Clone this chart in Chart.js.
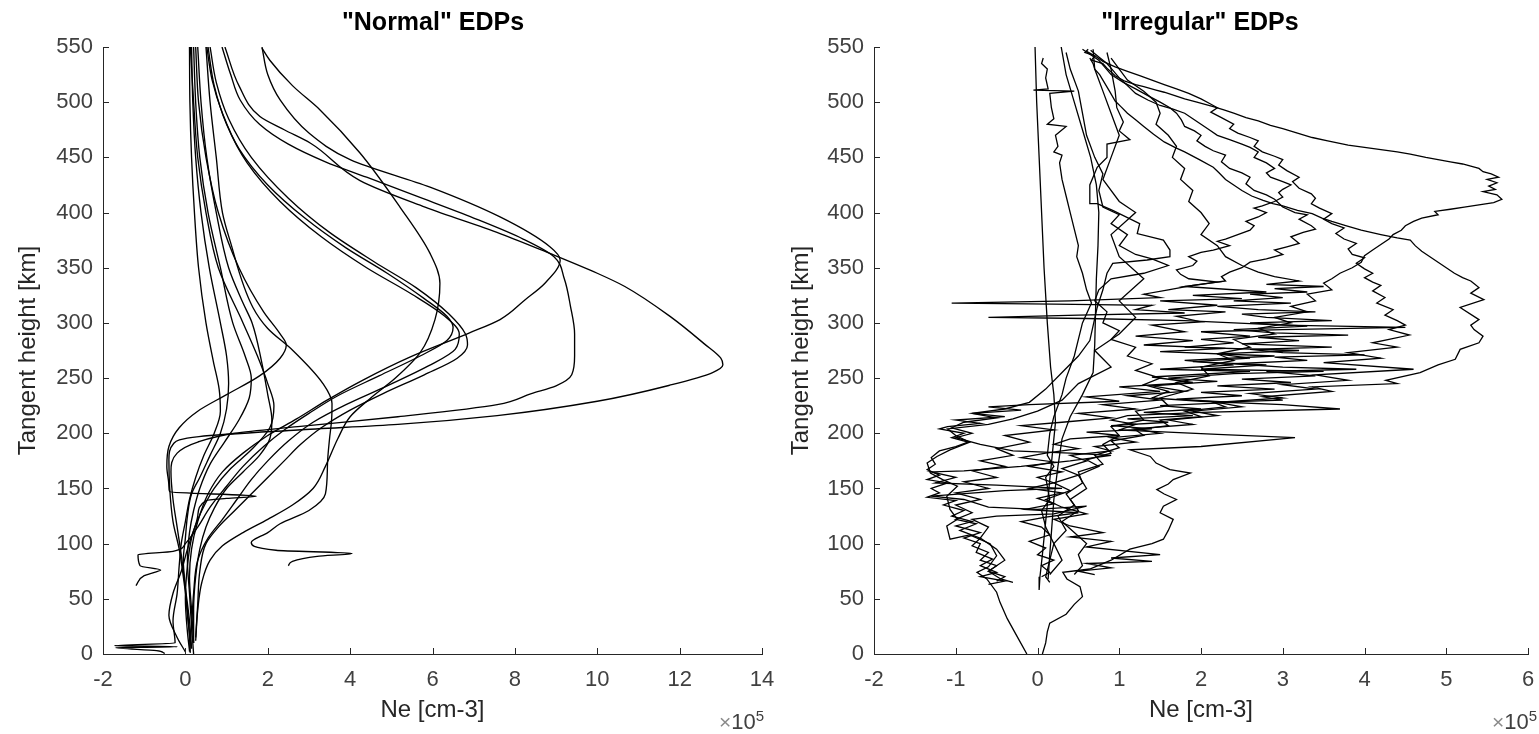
<!DOCTYPE html>
<html>
<head>
<meta charset="utf-8">
<script src="https://cdn.jsdelivr.net/npm/chart.js@4.4.1/dist/chart.umd.min.js"></script>
<style>
body{margin:0;background:#fff;width:1539px;height:734px;position:relative;overflow:hidden;font-family:"Liberation Sans",Arial,sans-serif}
canvas{position:absolute;top:0}
#c1{left:0}
#c2{left:770px}
.ttl{position:absolute;top:6px;font-weight:bold;font-size:25px;line-height:30px;color:#000;transform:translateX(-50%);white-space:nowrap}
.exp{position:absolute;top:701px;font-size:22px;line-height:30px;color:#404040;white-space:nowrap;transform:translateX(-100%)}
.exp span{color:#8a8a8a;font-size:21px}
.exp sup{font-size:15px}
</style>
</head>
<body>
<canvas id="c1" width="775" height="734"></canvas>
<canvas id="c2" width="769" height="734"></canvas>
<div class="ttl" style="left:433px">"Normal" EDPs</div>
<div class="ttl" style="left:1200px">"Irregular" EDPs</div>
<div class="exp" style="left:764px"><span>×</span>10<sup>5</sup></div>
<div class="exp" style="left:1537px"><span>×</span>10<sup>5</sup></div>
<script>
// ==========================================
// DATA  (Ne in 1e5 cm-3, tangent height km)
// ==========================================

const yTicks = [0,50,100,150,200,250,300,350,400,450,500,550];
const xTicksNormal = [-2,0,2,4,6,8,10,12,14];
const xTicksIrregular = [-2,-1,0,1,2,3,4,5,6];

// "Normal" profiles
const n13 = [[0.96,550],[1.3,515],[1.81,487],[2.4,475],[3.03,463],[4.24,429],[5.82,405],[7.64,381],[8.85,363],[10.0,345],[10.67,333],[11.8,305],[12.6,281],[13.0,268],[13.05,262],[12.8,255],[11.81,244],[10.0,229],[7.57,216],[5.16,208],[2.73,203],[0.33,197],[-0.28,191],[-0.4,176],[-0.38,150],[-0.3,120],[-0.15,95],[-0.05,70],[0.05,40],[0.1,15],[0.12,1]];
const n9 = [[1.86,550],[2.0,525],[2.3,502],[3.0,472],[4.0,448],[5.94,423],[7.64,396],[8.85,369],[9.1,357],[8.73,336],[8.25,321],[7.64,303],[6.9,291],[5.45,269],[4.3,248],[3.44,230],[2.7,213],[2.0,198],[1.4,182],[0.9,165],[0.55,145],[0.3,120],[0.15,95],[0.1,70],[0.15,40],[0.2,10]];
const n94 = [[0.89,550],[1.1,525],[1.33,502],[1.8,480],[2.5,462],[3.4,446],[4.4,432],[5.6,415],[7.0,395],[8.2,376],[8.95,360],[9.2,340],[9.35,315],[9.45,290],[9.45,270],[9.38,253],[9.0,243],[8.4,236],[7.57,226],[5.16,215],[2.73,206],[1.2,200],[0.3,192],[-0.2,182],[-0.35,165],[-0.3,140],[-0.2,115],[-0.1,90],[0.0,60],[0.1,30],[0.15,5]];
const m1 = [[1.86,549],[2.05,538],[2.6,515],[3.27,493],[4.24,454],[5.21,405],[5.94,363],[6.18,336],[6.06,303],[5.7,273],[5.1,250],[4.5,232],[4.0,215],[3.7,195],[3.4,170],[3.1,150],[2.6,135],[2.0,122],[1.4,110],[0.9,98],[0.6,85],[0.4,65],[0.3,40],[0.25,12]];
const m2 = [[0.55,550],[0.7,515],[1.0,480],[1.5,445],[2.3,410],[3.3,378],[4.4,350],[5.5,326],[6.3,306],[6.65,290],[6.55,276],[5.9,261],[4.9,243],[3.9,226],[3.1,210],[2.5,193],[2.0,175],[1.6,158],[1.25,140],[0.9,122],[0.55,105],[0.3,85],[0.2,55],[0.15,25],[0.1,2]];
const m3 = [[0.6,550],[0.75,518],[1.05,485],[1.6,450],[2.5,413],[3.5,382],[4.6,355],[5.6,332],[6.4,308],[6.8,290],[6.85,280],[6.6,268],[5.8,253],[4.8,236],[4.0,221],[3.3,205],[2.8,190],[2.4,175],[2.0,160],[1.6,145],[1.2,130],[0.8,115],[0.5,100],[0.35,75],[0.3,45],[0.25,15]];
const m4 = [[0.52,550],[0.65,520],[0.9,490],[1.3,458],[2.0,425],[2.9,395],[3.9,368],[4.9,345],[5.8,322],[6.35,306],[6.5,296],[6.35,284],[5.7,270],[4.7,252],[3.7,234],[3.0,218],[2.4,203],[1.9,188],[1.4,170],[1.0,152],[0.6,133],[0.3,115],[0.0,100],[-0.3,93],[-1.15,90],[-1.1,80],[-0.6,76],[-0.75,74],[-1.0,71],[-1.2,62]];
const b1 = [[0.1,550],[0.11,500],[0.15,450],[0.22,400],[0.32,350],[0.5,300],[0.68,265],[0.82,240],[0.85,220],[0.7,200],[0.45,180],[0.25,160],[0.1,140],[0.0,120],[-0.1,100],[-0.15,80],[-0.2,55],[-0.3,30],[-0.25,10],[-1.72,7.5],[-0.2,6.5],[-1.7,5.8],[-0.7,3],[-0.5,0.5]];
const b2 = [[0.15,550],[0.18,500],[0.25,450],[0.38,400],[0.58,350],[0.85,300],[1.0,270],[1.05,245],[1.0,222],[0.85,200],[0.6,180],[0.35,160],[0.15,145],[0.05,125],[0.0,105],[-0.05,85],[0.0,60],[0.05,35],[0.15,5]];
const b3 = [[0.2,550],[0.25,500],[0.35,450],[0.55,400],[0.85,350],[1.15,300],[1.45,270],[1.6,250],[1.55,232],[1.3,212],[0.95,192],[0.6,172],[0.35,150],[0.2,130],[0.1,110],[0.05,85],[0.1,55],[0.15,25],[0.2,0]];
const b4 = [[0.12,550],[0.2,500],[0.3,450],[0.5,400],[0.8,350],[1.4,300],[1.75,270],[2.0,245],[2.15,225],[2.05,205],[1.6,185],[1.1,168],[0.7,150],[0.4,130],[0.2,112],[0.05,95],[-0.1,75],[-0.3,55],[-0.4,35],[-0.2,15],[0.0,2]];
const b5 = [[0.3,550],[0.38,500],[0.52,450],[0.75,400],[1.05,350],[1.4,318],[1.62,300],[1.85,265],[2.0,235],[2.1,212],[2.05,195],[1.8,180],[1.4,165],[1.0,150],[0.7,132],[0.5,115],[0.35,95],[0.25,70],[0.2,40],[0.2,10]];
const d1 = [[0.25,550],[0.32,500],[0.5,450],[0.8,400],[1.3,350],[1.9,310],[2.3,290],[2.45,280],[2.3,268],[1.8,252],[1.0,235],[0.3,220],[-0.15,205],[-0.4,188],[-0.45,170],[-0.4,152],[-0.38,147],[1.72,143],[1.0,141],[0.5,139],[0.3,125],[0.15,105],[0.05,80],[0.0,50],[0.05,20],[0.1,3]];
const e1 = [[0.5,550],[0.6,500],[0.75,450],[0.9,400],[1.08,375],[1.64,314],[2.0,295],[2.61,275],[3.34,245],[3.56,227],[3.55,212],[3.5,195],[3.45,172],[3.4,145],[3.0,130],[2.3,118],[2.0,110],[1.6,101],[2.2,94],[4.05,91],[3.2,88.5],[2.6,84],[2.5,80]];

// "Irregular" profiles
const r1 = [[-0.03,550],[-0.01,500],[0.02,450],[0.05,400],[0.08,350],[0.12,300],[0.16,260],[0.2,235],[0.22,210],[0.18,180],[0.14,150],[0.1,120],[0.06,90],[0.03,70],[0.02,58]];
const r2 = [[0.07,540],[0.05,535],[0.12,530],[0.1,522],[0.13,512],[-0.05,511],[0.45,510],[0.15,508],[0.17,495],[0.2,485],[0.12,480],[0.35,478],[0.22,470],[0.25,460],[0.2,455],[0.3,452],[0.27,445],[0.3,430],[0.35,415],[0.4,400],[0.45,385],[0.5,370],[0.48,360],[0.55,345],[0.6,330],[0.66,318],[0.55,300],[0.5,285],[0.45,270],[0.35,250],[0.3,235],[0.2,215],[0.15,200],[0.12,180],[0.2,170],[0.1,160],[0.15,140],[0.05,130],[0.1,115],[0.2,100],[0.15,85],[0.1,70],[0.15,65]];
const r3 = [[0.29,550],[0.35,525],[0.45,500],[0.55,475],[0.65,450],[0.72,425],[0.75,400],[0.74,370],[0.72,340],[0.71,310],[0.7,280],[0.68,255],[0.55,235],[0.4,215],[0.3,195],[0.25,170],[0.2,140],[0.17,110],[0.15,90],[0.13,68]];
const r4 = [[0.62,548],[0.58,545],[0.7,542],[0.66,538],[0.8,535],[0.86,530],[0.95,524],[1.07,519],[1.2,516],[1.3,514],[1.45,511],[1.55,509],[1.68,506],[1.8,503],[1.95,500],[2.15,496],[2.28,493],[2.4,490],[2.55,486],[2.7,483],[2.85,479],[3.0,476],[3.18,472],[3.36,468],[3.55,465],[3.8,461],[4.0,459],[4.2,457],[4.4,455],[4.56,453],[4.75,450],[4.9,448],[5.05,446],[5.2,444],[5.3,442],[5.4,440],[5.45,437],[5.55,435],[5.64,432],[5.5,430],[5.62,427],[5.52,424],[5.6,421],[5.45,419],[5.62,416],[5.68,412],[5.58,409],[5.4,407],[5.22,405],[5.05,403],[4.86,401],[4.9,398],[4.7,395],[4.6,392],[4.5,388],[4.45,384],[4.35,380],[4.3,376],[4.2,371],[4.1,366],[4.0,361],[3.96,355],[3.85,350],[3.7,345],[3.6,340],[3.5,336],[3.6,330],[3.3,326],[3.4,320],[3.1,315],[3.3,310],[2.9,305],[3.1,300],[2.7,295],[2.9,290],[2.4,285],[2.6,278],[2.2,272],[2.4,266],[2.0,260],[2.1,252],[1.7,246],[1.9,240],[1.5,232],[1.6,225],[1.2,220],[1.3,212],[0.9,206],[1.0,198],[0.8,190],[0.9,182],[0.6,176],[0.75,170],[0.5,162],[0.6,150],[0.4,140],[0.5,130],[0.3,120],[0.45,110],[0.6,100],[0.5,90],[0.55,80],[0.45,72]];
const r5 = [[0.64,540],[0.68,535],[0.7,530],[0.76,525],[0.8,520],[0.88,510],[0.95,501],[1.02,496],[1.1,490],[1.2,484],[1.3,478],[1.42,471],[1.55,464],[1.68,459],[1.8,455],[1.98,448],[2.15,441],[2.22,436],[2.3,430],[2.4,425],[2.5,420],[2.62,415],[2.76,411],[2.88,408],[3.0,406],[3.18,402],[3.36,399],[3.48,395],[3.6,392],[3.78,388],[3.96,384],[4.08,382],[4.2,380],[4.4,377],[4.56,375],[4.62,370],[4.7,365],[4.8,360],[4.9,355],[5.0,350],[5.1,345],[5.2,341],[5.3,338],[5.35,335],[5.4,332],[5.3,327],[5.46,321],[5.17,314],[5.4,303],[5.3,298],[5.34,294],[5.45,288],[5.4,282],[5.17,276],[5.11,267],[4.9,262],[4.68,255],[4.26,248],[4.4,245],[3.36,242],[3.6,238],[2.76,233],[3.0,230],[2.15,228],[2.3,224],[1.8,220],[2.0,215],[1.5,212],[1.6,207],[1.2,203],[1.3,198],[0.9,193],[1.0,187],[0.7,180],[0.8,172],[0.5,165],[0.55,155],[0.35,145],[0.45,135],[0.25,125],[0.35,112],[0.2,100],[0.3,85],[0.15,72]];
const r6 = [[0.06,0],[0.1,10],[0.12,20],[0.15,28],[0.35,36],[0.45,45],[0.55,52],[0.52,61],[0.36,68],[0.31,74],[0.64,77],[0.9,85],[1.13,95],[1.4,100],[1.54,104],[1.6,112],[1.66,122],[1.5,128],[1.54,134],[1.7,140],[1.55,145],[1.46,149],[1.6,154],[1.66,158],[1.87,164],[1.62,167],[1.45,173],[1.38,179],[1.13,185],[2.0,188],[3.15,196],[2.2,199],[1.6,201],[1.0,203],[1.2,208],[0.9,212],[1.1,216],[2.0,219],[3.7,222],[3.0,226],[2.0,229],[1.4,232],[1.6,238],[1.3,244],[1.5,250],[1.2,257],[1.4,263],[1.1,270],[1.2,278],[0.9,285],[1.0,293],[0.8,300],[0.85,310],[0.7,320],[0.75,330],[0.9,340],[1.3,345],[1.6,352],[1.4,358],[1.2,362],[1.0,370],[1.1,380],[0.9,390],[1.0,398],[0.8,405],[0.75,420],[0.8,435],[0.7,450],[0.6,470],[0.55,490],[0.5,510],[0.4,530],[0.35,545]];
const r7 = [[-0.13,0],[-0.25,16],[-0.37,32],[-0.46,47],[-0.5,56],[-0.62,68],[-0.74,74],[-0.6,79],[-0.5,89],[-0.58,100],[-0.83,108],[-1.07,104],[-1.11,116],[-0.98,122],[-1.07,131],[-1.11,143],[-0.98,152],[-1.16,158],[-1.31,164],[-1.35,173],[-1.23,179],[-1.07,185],[-0.83,192],[-1.0,198],[-1.1,204],[-0.6,208],[-0.3,213],[0.0,220],[0.3,230],[0.5,245],[0.9,260],[0.7,275],[1.0,290],[1.2,305],[1.0,320],[1.3,340],[1.0,360],[0.9,380],[1.2,400],[1.0,410],[0.8,430],[0.9,450],[1.0,470],[0.9,490],[0.8,510],[0.7,530],[0.68,548]];
const r8 = [[0.85,545],[0.9,530],[0.95,510],[0.97,495],[1.05,482],[1.0,474],[1.13,466],[0.85,462],[0.85,450],[0.73,441],[0.64,425],[0.64,408],[0.73,408],[0.92,402],[1.25,390],[1.22,381],[1.54,375],[1.62,366],[1.62,360],[1.34,357],[0.92,354],[0.85,345],[0.8,330],[0.73,314],[0.64,284],[0.5,270],[0.3,255],[0.1,240],[-0.1,228],[-0.4,222],[-0.8,218],[-0.5,214],[-0.9,210],[-1.05,205],[-0.8,200],[-1.0,196],[-0.7,190],[-0.3,184],[0.4,182],[0.9,180],[0.4,175],[-0.2,170],[-0.9,166],[-1.3,165],[-1.0,160],[-1.25,155],[-0.5,153],[0.3,150],[-0.4,148],[-1.3,143],[-0.9,140],[-0.6,133],[0.0,131],[0.6,134],[0.2,127],[-0.5,125],[-0.8,122],[-0.6,115],[-0.7,105],[-0.5,95],[-0.4,85],[-0.6,75],[-0.45,68],[-0.3,65]];
const r9 = [[0.55,548],[0.65,543],[0.75,538],[0.82,532],[0.9,525],[1.05,518],[1.2,512],[1.35,506],[1.5,500],[1.62,495],[1.7,490],[1.76,484],[1.8,478],[1.92,474],[2.0,470],[1.95,465],[2.05,460],[2.15,456],[2.3,452],[2.25,446],[2.35,440],[2.5,436],[2.6,432],[2.55,426],[2.65,420],[2.8,416],[2.9,412],[3.0,405],[3.15,400],[3.3,398],[3.2,394],[3.35,388],[3.4,385],[3.25,382],[3.1,378],[3.2,372],[3.05,369],[2.9,366],[3.0,362],[2.8,358],[2.6,355],[2.5,350],[2.35,346],[2.25,342],[2.3,338],[2.1,336],[1.9,334],[1.6,330],[1.3,326],[1.5,323],[0.4,320],[-1.05,318],[0.2,317],[1.4,316],[1.2,312],[1.8,309],[0.5,307],[-0.6,305],[0.6,304],[1.8,302],[2.4,300],[3.0,298],[4.5,296],[3.0,294],[2.0,292],[2.6,288],[2.0,285],[2.4,282],[1.8,278],[3.2,275],[2.2,272],[2.6,268],[1.9,265],[2.8,262],[2.0,258],[3.5,256],[2.4,254],[1.6,250],[2.2,247],[1.4,243],[1.8,238],[1.1,234],[1.5,230],[0.8,226],[1.2,222],[0.5,218],[0.9,214],[0.3,210],[-0.2,207],[0.2,203],[-0.4,198],[-0.1,192],[-0.5,186],[-0.3,180],[-0.7,175],[-0.4,170],[-0.8,166],[-0.5,160],[-0.9,156],[-0.6,150],[-1.0,146],[-0.7,140],[-1.0,135],[-0.8,128],[-1.0,122],[-0.75,118],[-0.95,112],[-0.7,105],[-0.8,98],[-0.6,92],[-0.7,85],[-0.5,80],[-0.6,75],[-0.4,70],[-0.5,66]];
const r10 = [[0.6,546],[0.7,542],[0.8,537],[0.95,532],[1.1,528],[1.25,524],[1.4,520],[1.55,516],[1.7,512],[1.85,508],[2.0,503],[2.1,499],[2.2,495],[2.12,491],[2.25,486],[2.4,480],[2.35,476],[2.45,472],[2.6,468],[2.7,465],[2.65,460],[2.75,455],[2.9,451],[3.0,448],[2.95,443],[3.05,438],[3.2,432],[3.12,428],[3.2,422],[3.35,417],[3.4,413],[3.35,408],[3.45,404],[3.6,399],[3.5,394],[3.6,390],[3.75,386],[3.65,381],[3.75,376],[3.9,372],[3.8,367],[3.85,362],[4.0,359],[3.9,354],[4.0,349],[4.1,345],[4.0,341],[4.1,337],[4.2,334],[4.1,329],[4.25,323],[4.15,318],[4.35,312],[4.25,307],[4.4,302],[4.5,298],[4.3,294],[4.55,289],[4.3,285],[4.1,282],[4.4,278],[3.8,273],[4.2,268],[3.5,264],[4.6,258],[3.4,253],[3.8,248],[3.0,244],[3.4,240],[2.6,236],[3.0,232],[2.2,228],[2.5,224],[1.9,220],[2.2,216],[1.6,212],[1.9,208],[1.2,204],[1.5,200],[0.9,196],[1.2,192],[0.7,188],[0.9,184],[0.4,180],[0.6,175],[0.3,168],[0.5,162],[0.2,155],[0.4,148],[0.1,140],[0.3,133],[0.6,127],[0.2,122],[0.4,116],[0.8,110],[0.4,106],[0.9,102],[0.6,97],[1.5,90],[0.9,87],[1.4,84],[0.6,82],[0.9,78],[0.5,75],[0.7,72]];
const r11 = [[0.65,547],[0.75,541],[0.85,535],[0.92,529],[1.0,522],[1.1,515],[1.2,508],[1.35,502],[1.5,497],[1.65,494],[1.8,490],[1.9,485],[2.0,480],[2.1,475],[2.2,470],[2.35,466],[2.5,462],[2.6,459],[2.7,455],[2.65,450],[2.8,445],[2.9,440],[2.8,436],[2.85,432],[3.0,428],[3.1,425],[3.0,421],[2.95,418],[3.0,414],[2.9,410],[2.75,406],[2.65,404],[2.8,400],[2.7,396],[2.55,392],[2.65,388],[2.6,384],[2.45,380],[2.3,376],[2.2,374],[2.35,370],[2.15,366],[2.0,364],[1.85,360],[1.95,356],[1.9,352],[1.7,348],[1.75,344],[1.85,340],[2.2,337],[1.8,333],[2.8,328],[1.9,325],[2.5,322],[1.5,320],[2.2,316],[1.6,312],[2.3,310],[1.7,306],[2.0,301],[1.4,298],[1.8,292],[1.2,288],[1.9,284],[1.3,280],[2.3,277],[1.5,274],[2.9,270],[1.8,266],[2.4,262],[1.5,258],[2.6,256],[1.4,251],[1.9,246],[1.0,242],[1.5,238],[0.6,233],[1.0,229],[-0.1,226],[-0.6,224],[-0.2,221],[-0.8,218],[-0.4,215],[-1.0,212],[-0.7,209],[-1.1,206],[-1.2,204],[-0.9,200],[-1.05,196],[-0.85,192],[-1.0,188],[-1.2,184],[-1.3,178],[-1.25,172],[-1.35,167],[-1.2,162],[-1.35,158],[-1.1,155],[-1.3,150],[-1.2,146],[-1.35,142],[-1.0,139],[-1.15,135],[-0.9,130],[-1.05,125],[-0.8,120],[-1.0,116],[-0.7,110],[-0.9,105],[-0.7,100],[-0.75,92],[-0.55,86],[-0.7,80],[-0.5,74],[-0.7,70],[-0.4,66],[-0.6,63]];
const r12 = [[0.9,540],[1.0,530],[1.1,520],[1.3,510],[1.45,500],[1.5,490],[1.45,480],[1.6,470],[1.7,460],[1.65,450],[1.8,440],[1.75,430],[1.9,420],[1.85,410],[2.0,400],[2.1,390],[2.0,380],[2.2,370],[2.3,360],[2.5,352],[2.7,346],[2.9,342],[3.2,338],[2.8,335],[3.5,333],[2.9,331],[3.3,328],[2.6,326],[3.0,323],[2.4,320],[3.1,318],[2.2,315],[2.7,312],[3.4,310],[2.5,308],[2.8,305],[3.6,302],[2.6,300],[3.3,297],[2.4,294],[2.9,291],[3.8,289],[2.7,287],[3.2,284],[2.5,281],[3.6,278],[2.6,276],[3.0,273],[4.0,271],[2.9,269],[3.3,266],[2.4,263],[3.0,260],[3.9,258],[2.8,256],[3.4,252],[2.5,249],[3.1,246],[2.2,243],[2.9,240],[2.0,237],[2.5,234],[1.7,231],[2.4,228],[1.5,225],[2.0,222],[1.3,219],[1.9,216],[1.1,213],[1.6,210],[0.9,207],[1.4,204],[0.6,201],[1.0,198],[0.4,195],[0.2,190],[0.5,186],[0.1,182],[-0.2,178],[0.2,174],[-0.1,170],[0.3,165],[0.0,160],[0.2,155],[-0.1,150],[0.3,146],[0.0,141],[0.2,136],[-0.15,131],[0.5,128],[0.1,124],[-0.2,120],[0.05,115],[0.15,108],[-0.1,102],[0.1,96],[0.0,90],[0.2,85],[0.05,80],[0.15,74],[0.05,70]];

const normalProfiles = [n13, n9, n94, m1, m2, m3, m4, b1, b2, b3, b4, b5, d1, e1];
const irregularProfiles = [r1, r2, r3, r4, r5, r6, r7, r8, r9, r10, r11, r12];


// ==========================================
// HELPERS
// ==========================================

const axisColor = "#262626";
const tickColor = "#404040";
const fontFamily = "'Liberation Sans', Arial, sans-serif";

// MATLAB style ticks pointing into the axes
const innerTicks = {
    id: "innerTicks",
    afterDraw(chart){
        const {ctx, chartArea:a, scales:{x, y}} = chart;
        ctx.save();
        ctx.strokeStyle = axisColor;
        ctx.lineWidth = 1;
        ctx.beginPath();
        x.ticks.forEach(t => {
            const p = Math.round(x.getPixelForValue(t.value)) + 0.5;
            ctx.moveTo(p, a.bottom);
            ctx.lineTo(p, a.bottom - 6);
        });
        y.ticks.forEach(t => {
            const p = Math.round(y.getPixelForValue(t.value)) + 0.5;
            ctx.moveTo(a.left, p);
            ctx.lineTo(a.left + 6, p);
        });
        ctx.stroke();
        ctx.restore();
    }
};

function makeDatasets(list, smooth){
    return list.map(arr => ({
        data: arr.map(p => ({x: p[0], y: p[1]})),
        indexAxis: "y",
        borderColor: "#000",
        borderWidth: smooth ? 1.35 : 1.3,
        pointRadius: 0,
        fill: false,
        cubicInterpolationMode: smooth ? "monotone" : "default",
        tension: 0
    }));
}

function makeChart(id, list, smooth, xTicks, yAxisWidth, xTitlePad, yTitlePad, padRight){
    const xMin = xTicks[0], xMax = xTicks[xTicks.length - 1];
    return new Chart(document.getElementById(id), {
        type: "line",
        data: { datasets: makeDatasets(list, smooth) },
        options: {
            responsive: false,
            animation: false,
            events: [],
            layout: { padding: { left: 0, top: 47, right: padRight, bottom: 0 } },
            plugins: { legend: { display: false }, tooltip: { enabled: false }, title: { display: false } },
            scales: {
                x: {
                    type: "linear",
                    min: xMin, max: xMax,
                    afterBuildTicks: s => { s.ticks = xTicks.map(v => ({value: v})); },
                    afterFit: s => { s.height = 734 - 654; s.paddingLeft = 0; s.paddingRight = 0; },
                    grid: { display: true, drawOnChartArea: false, drawTicks: false },
                    border: { display: true, color: axisColor, width: 1 },
                    ticks: { color: tickColor, padding: 13, maxRotation: 0, autoSkip: false,
                              font: { family: fontFamily, size: 22 } },
                    title: { display: true, text: "Ne [cm-3]", color: axisColor,
                             font: { family: fontFamily, size: 24 }, padding: { top: 0, bottom: xTitlePad } }
                },
                y: {
                    type: "linear",
                    min: 0, max: 550,
                    afterBuildTicks: s => { s.ticks = yTicks.map(v => ({value: v})); },
                    afterFit: s => { s.width = yAxisWidth; },
                    grid: { display: true, drawOnChartArea: false, drawTicks: false },
                    border: { display: true, color: axisColor, width: 1 },
                    ticks: { color: tickColor, padding: 10, autoSkip: false,
                             font: { family: fontFamily, size: 22 } },
                    title: { display: true, text: "Tangent height [km]", color: axisColor,
                             font: { family: fontFamily, size: 24 }, padding: { top: yTitlePad, bottom: 0 } }
                }
            }
        },
        plugins: [innerTicks]
    });
}

// ==========================================
// CHARTS
// ==========================================

makeChart("c1", normalProfiles, true, xTicksNormal, 103, 9, 14, 13);
makeChart("c2", irregularProfiles, false, xTicksIrregular, 104, 9, 17, 11);
</script>
</body>
</html>
